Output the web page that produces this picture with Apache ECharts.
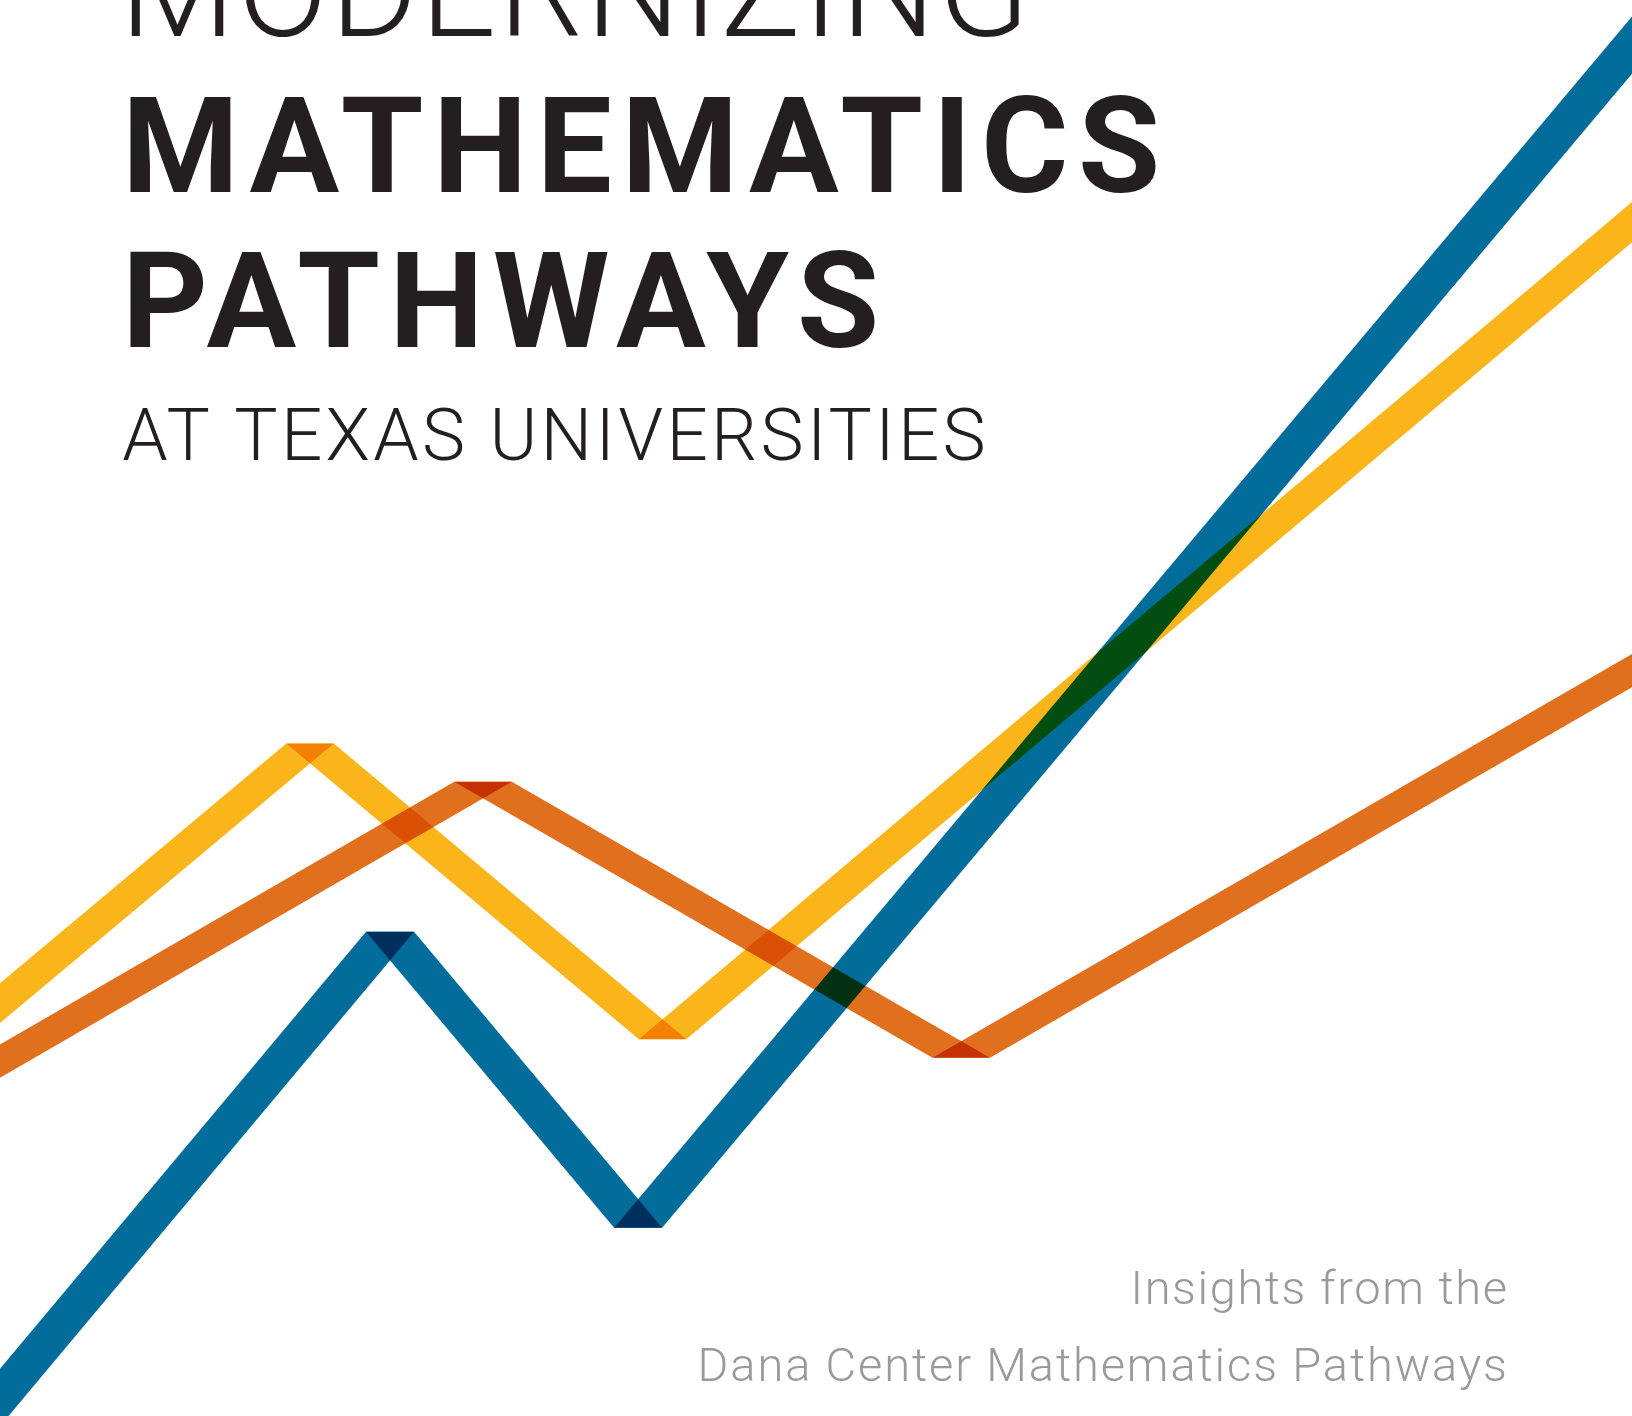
<!DOCTYPE html>
<html>
<head>
<meta charset="utf-8">
<script src="https://cdn.jsdelivr.net/npm/echarts@6/dist/echarts.min.js"></script>
<style>
  html, body { margin: 0; padding: 0; background: #fff; }
  #main { width: 1632px; height: 1416px; }
</style>
</head>
<body>
<div id="main"></div>
<script>
// line vertices: x = % of page width, y = % of page height (from bottom)
var yellowLine = [[-4, 25.3], [19.0, 47.5], [40.6, 26.6], [104, 88.2]];
var orangeLine = [[-4, 22.4], [29.6, 44.8], [58.9, 25.3], [104, 55.3]];
var blueLine = [[-4, -4.2], [23.9, 34.2], [39.1, 13.3], [104, 102.3]];

var titleLines = ['MODERNIZING', 'MATHEMATICS', 'PATHWAYS', 'AT TEXAS UNIVERSITIES'];
var subLines = ['Insights from the', 'Dana Center Mathematics Pathways'];

var chartDom = document.getElementById('main');
var myChart = echarts.init(chartDom);

// the cover uses tracked (letter-spaced) type; canvas can do that per fillText
var tracking = {};
var plainFillText = CanvasRenderingContext2D.prototype.fillText;
CanvasRenderingContext2D.prototype.fillText = function (str) {
  this.letterSpacing = (tracking[str] || 0) + 'px';
  return plainFillText.apply(this, arguments);
};

var measureCtx = document.createElement('canvas').getContext('2d');

// text placed by its ink box: left edge, right edge, baseline
function coverText(str, font, size, inkLeft, inkRight, baseline, color) {
  measureCtx.font = font;
  var m = measureCtx.measureText(str);
  var inkW = m.actualBoundingBoxLeft + m.actualBoundingBoxRight;
  tracking[str] = (inkRight - inkLeft - inkW) / (str.length - 1);
  return {
    type: 'text',
    x: inkLeft + m.actualBoundingBoxLeft,
    y: baseline - 0.248 * size,
    silent: true,
    style: {
      text: str,
      font: font,
      fill: color,
      align: 'left',
      verticalAlign: 'middle',
      textAlign: 'left',
      textVerticalAlign: 'middle'
    }
  };
}

function segments(points) {
  var out = [];
  for (var i = 0; i < points.length - 1; i++) {
    out.push([points[i][0], points[i][1], points[i + 1][0], points[i + 1][1]]);
  }
  return out;
}

// each segment is a band with horizontal ends, overlaps multiply
function bandSeries(name, points, color, bandWidth) {
  return {
    type: 'custom',
    name: name,
    silent: true,
    blendMode: 'multiply',
    data: segments(points),
    encode: { x: [0, 2], y: [1, 3] },
    renderItem: function (params, api) {
      var a = api.coord([api.value(0), api.value(1)]);
      var b = api.coord([api.value(2), api.value(3)]);
      var h = bandWidth / 2;
      return {
        type: 'polygon',
        shape: { points: [[a[0] - h, a[1]], [a[0] + h, a[1]], [b[0] + h, b[1]], [b[0] - h, b[1]]] },
        style: { fill: color, blend: 'multiply' }
      };
    }
  };
}

var family = 'Roboto, "Liberation Sans", sans-serif';
var big = 133.6, mid = 72.7, small = 47;
var ink = '#231f20';
var grey = '#9a9a9a';

var option = {
  backgroundColor: '#ffffff',
  animation: false,
  grid: { left: 0, right: 0, top: 0, bottom: 0 },
  xAxis: { type: 'value', min: 0, max: 100, show: false },
  yAxis: { type: 'value', min: 0, max: 100, show: false },
  graphic: [
    coverText(titleLines[0], '300 ' + big + 'px ' + family, big, 131.7, 1019, 36, ink),
    coverText(titleLines[1], 'bold ' + big + 'px ' + family, big, 130, 1156, 191.7, ink),
    coverText(titleLines[2], 'bold ' + big + 'px ' + family, big, 130, 875, 347, ink),
    coverText(titleLines[3], '300 ' + mid + 'px ' + family, mid, 123.3, 983.6, 460, ink),
    coverText(subLines[0], '300 ' + small + 'px ' + family, small, 1134.5, 1505.7, 1304.3, grey),
    coverText(subLines[1], '300 ' + small + 'px ' + family, small, 701.6, 1505, 1381, grey)
  ],
  series: [
    bandSeries('yellow', yellowLine, '#f9b51a', 47.5),
    bandSeries('orange', orangeLine, '#e0701e', 57.5),
    bandSeries('blue', blueLine, '#026d9a', 48)
  ]
};

option && myChart.setOption(option);
window.onresize = function () {
  myChart.resize();
};
</script>
</body>
</html>
